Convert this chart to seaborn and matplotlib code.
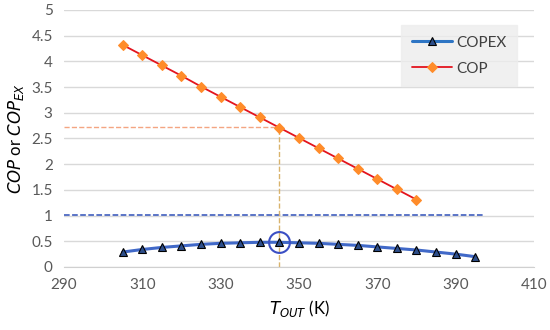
import numpy as np
import pandas as pd
import matplotlib
matplotlib.use("Agg")
import matplotlib.pyplot as plt
import seaborn as sns

# datos
t_cop = [305, 310, 315, 320, 325, 330, 335, 340, 345, 350, 355, 360, 365, 370, 375, 380]
cop = [4.32, 4.12, 3.92, 3.72, 3.51, 3.31, 3.11, 2.91, 2.71, 2.51, 2.31, 2.11, 1.91, 1.71, 1.51, 1.31]

t_copex = [305, 310, 315, 320, 325, 330, 335, 340, 345, 350, 355, 360, 365, 370, 375, 380, 385, 390, 395]
copex = [0.29, 0.34, 0.38, 0.41, 0.44, 0.46, 0.47, 0.48, 0.48, 0.47, 0.46, 0.44, 0.42, 0.39, 0.36, 0.33, 0.29, 0.25, 0.20]

x_ticks = [290, 310, 330, 350, 370, 390, 410]
y_ticks = [0, 0.5, 1, 1.5, 2, 2.5, 3, 3.5, 4, 4.5, 5]

t_opt = 345
cop_opt = 2.73
copex_opt = 0.48
ref_line = 1.02
ref_end = 397

df_cop = pd.DataFrame({"T": t_cop, "val": cop})
df_copex = pd.DataFrame({"T": t_copex, "val": copex})

sns.set_style("white")
plt.rcParams["font.family"] = ["Lato", "DejaVu Sans"]

fig = plt.figure(figsize=(5.5, 3.3), dpi=100)
ax = fig.add_axes([0.116, 0.191, 0.855, 0.779])

ax.set_xlim(290, 410)
ax.set_ylim(0, 5)
ax.set_xticks(x_ticks)
ax.set_yticks(y_ticks)
ax.set_yticklabels([f"{v:g}" for v in y_ticks])
ax.yaxis.grid(True, color="#d9d9d9", lw=1)
ax.set_axisbelow(True)
for s in ["top", "right", "left"]:
    ax.spines[s].set_visible(False)
ax.spines["bottom"].set_color("#d0d0d0")
ax.tick_params(axis="both", colors="#595959", labelsize=11, length=0, pad=8)

# lineas de referencia
ax.plot([290, ref_end], [ref_line, ref_line], ls="--", color="#2f4fb8", lw=1.1)
ax.plot([290, t_opt], [cop_opt, cop_opt], ls="--", color="#f4a582", lw=1)
ax.plot([t_opt, t_opt], [0, cop_opt], ls="--", color="#d9b36c", lw=1)

# curvas
sns.lineplot(data=df_copex, x="T", y="val", ax=ax, color="#4169c8", lw=2.2,
             marker="^", markersize=6, markerfacecolor="#2d4e8a",
             markeredgecolor="black", markeredgewidth=0.8, label="COPEX")
sns.lineplot(data=df_cop, x="T", y="val", ax=ax, color="#e3141e", lw=1.3,
             marker="D", markersize=5, markerfacecolor="#ff8c2a",
             markeredgecolor="#ff8c2a", label="COP")

ax.plot([t_opt], [copex_opt], marker="o", markersize=15, markerfacecolor="none",
        markeredgecolor="#3b4fc4", markeredgewidth=1.5, ls="none")

leg = ax.legend(loc="upper right", bbox_to_anchor=(0.964, 0.942), frameon=True,
                fontsize=11, handlelength=2.6, borderpad=0.7, labelspacing=0.8,
                handletextpad=0.3, borderaxespad=0, fancybox=False)
leg.get_frame().set_facecolor("#ededed")
leg.get_frame().set_edgecolor("#ededed")
leg.get_lines()[0].set_color("#2e75c4")
for t in leg.get_texts():
    t.set_color("#404040")

ax.set_xlabel(r"$T_{OUT}$ (K)", fontsize=12, color="black")
ax.set_ylabel(r"$COP$ or $COP_{EX}$", fontsize=12, color="black")

fig.savefig("out.png", dpi=100)
